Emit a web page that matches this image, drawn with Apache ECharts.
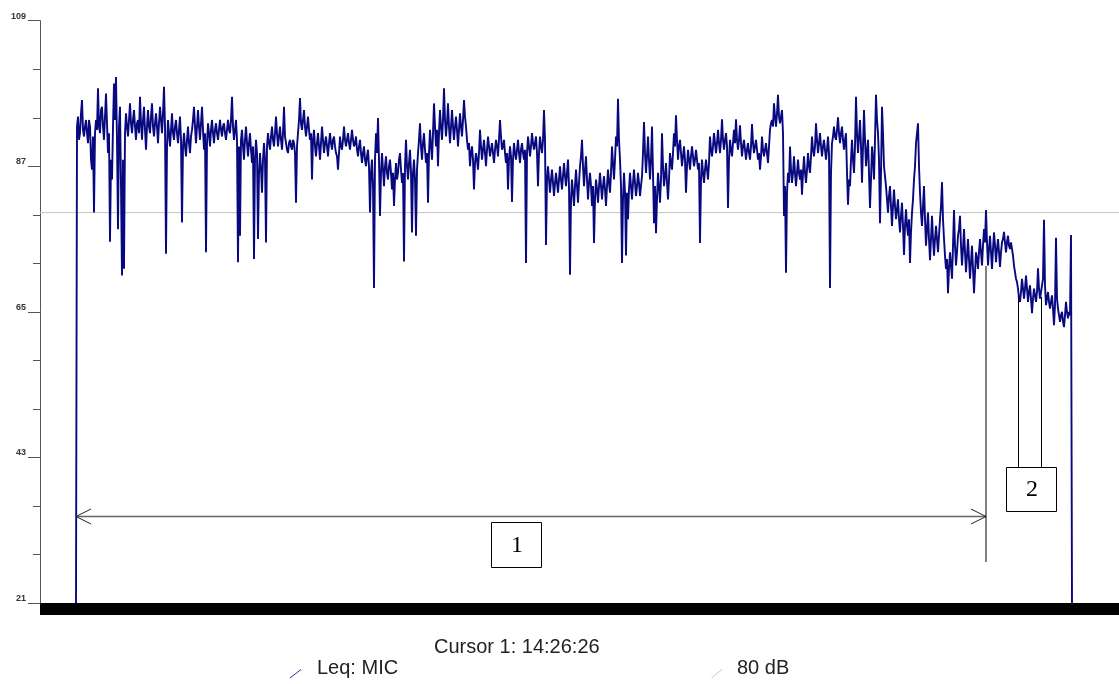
<!DOCTYPE html>
<html>
<head>
<meta charset="utf-8">
<script src="https://cdn.jsdelivr.net/npm/echarts@6/dist/echarts.min.js"></script>
<style>
  html, body { margin: 0; padding: 0; background: #fff; }
  #chart { width: 1119px; height: 684px; }
</style>
</head>
<body>
<div id="chart"></div>
<script>
// Leq (dB) of the MIC channel, one reading per sample
const leqMic = [
  21,
  93, 94.5, 91, 92, 95, 97, 92.5, 91.5, 93, 94,
  92, 90.5, 94, 93, 88, 86.5, 91.5, 80, 92, 94,
  92.5, 98.8, 93, 92, 95.5, 96, 93, 91, 94.5, 98,
  93.5, 89, 92, 75.6, 88, 85, 93, 99.5, 94, 100.5,
  91, 77.5, 93, 96, 84, 70.5, 88, 71.5, 92, 95,
  93, 91.5, 94, 96.5, 93.5, 92, 94, 95.5, 93, 91,
  93.5, 94, 92, 97.5, 93.5, 91, 94, 96, 92.5, 89.5,
  93, 95.5, 93, 92, 94.5, 96.5, 93, 91.5, 93.5, 95,
  93, 90.5, 93.5, 96, 94, 92, 95, 99, 93, 73.8,
  90, 94, 92, 90, 92.5, 95, 92, 91, 93, 94,
  92, 90.5, 92.5, 94.5, 91, 78.5, 90, 92, 90, 88.5,
  91, 93, 90.5, 89, 91.5, 92.5, 94, 96, 93, 90.5,
  93, 95.5, 93, 91, 93.5, 96, 92.5, 89.5, 92, 74,
  90.5, 93.5, 92, 90, 92.5, 94, 92, 90.5, 92.5, 93.5,
  92, 91, 92.5, 94, 92.5, 91.5, 93, 93.5, 92, 91,
  92.5, 94, 92.5, 92, 94, 97.5, 93, 91, 92.5, 94,
  91, 72.5, 90, 76.5, 91, 92.5, 90, 88, 91, 93,
  90.5, 88.5, 90.5, 92, 89.5, 87.5, 90, 73, 88, 91,
  89, 76, 86, 89, 86.5, 83, 88, 90.5, 88, 75.5,
  90, 92, 90.5, 89.5, 91.5, 93, 91, 90, 92, 94.5,
  92, 90, 91.5, 93, 91, 89.5, 92, 96, 91.5, 90.5,
  89.5, 89, 90.5, 91, 90, 89.5, 91, 90.5, 89, 81.5,
  90, 92, 94, 97.3, 93.5, 92.5, 94, 95.5, 93, 91.5,
  93, 94.5, 92.5, 91, 92, 85, 91, 92.5, 90, 88.5,
  90.5, 92, 90, 88, 90.5, 93, 91, 89, 90.5, 91.5,
  90, 88.5, 90.5, 92, 90.5, 89.5, 91, 91.5, 90, 89,
  88.5, 86.5, 89, 91.5, 90, 89.5, 91, 93, 91, 90,
  91, 92, 90.5, 89.5, 91, 92.5, 91, 90, 90.5, 91.5,
  89.5, 88.5, 90, 91, 89, 87.5, 89, 90, 88, 87,
  88.5, 89.5, 87, 80, 86, 88, 84, 68.6, 88, 92,
  89, 94.3, 88, 79.5, 86, 89, 86.5, 84, 87, 88.5,
  86, 85, 87, 88, 86, 83.5, 86, 81, 85, 87.5,
  85, 86, 88, 89, 86.5, 84.5, 86, 72.6, 87, 91,
  87, 85, 87.5, 89.5, 86, 77, 86, 88, 85, 76.5,
  86.5, 89, 91, 93.5, 90, 88, 90.5, 92, 89.5, 87.5,
  89, 81.5, 89, 92.5, 90, 88, 92, 96.5, 93, 90,
  92.5, 87, 92, 95.5, 93, 91, 94, 98.8, 94, 91.5,
  93.5, 96.5, 93, 90.5, 93, 95.5, 93, 91, 93, 94.5,
  92.5, 90, 92.5, 95, 93, 91.5, 94, 97, 94.5, 93,
  91, 89.5, 90.5, 87, 89, 90, 88, 83.5, 87.5, 89,
  88, 86.5, 89, 92.5, 90, 88, 89.5, 91, 89, 87,
  89.5, 91.5, 90, 88.5, 89.5, 90.5, 89, 87.5, 89.5, 91,
  90, 88.5, 91, 94, 91.5, 89.5, 90, 91, 89, 87.5,
  89, 83.5, 88, 90, 88.5, 81.6, 88, 90.5, 89, 88,
  89.5, 91, 89, 87.5, 89.5, 90.5, 89, 88, 89.5, 72.4,
  89, 91.5, 90, 88.5, 90, 92, 90.5, 89.5, 90.5, 91.5,
  89, 84, 89, 91.5, 90, 89, 91, 95.5, 91, 75.1,
  85, 87, 85, 83, 85, 86.5, 84.5, 82.5, 84.5, 86,
  84.5, 83, 85, 87, 85, 83.5, 85.5, 87.5, 85.5, 84,
  86, 88, 84, 70.6, 82, 85, 83, 81, 84, 86.5,
  84, 81.5, 84.5, 87, 88.5, 91, 87, 84, 86.5, 88.5,
  85, 82, 84.5, 86, 84, 81, 84, 75.4, 82, 85,
  83.5, 81.5, 84, 86, 84, 82, 84, 85.5, 83.5, 81,
  84, 86.5, 84.5, 83, 86, 90, 87.5, 85, 88, 91.5,
  90, 97.2, 91, 88, 84, 72.4, 82, 86, 83, 73.5,
  83, 79, 83.5, 86, 84, 82, 84.5, 86.5, 84.5, 82.5,
  84, 86, 84.5, 82.5, 84, 85.5, 89, 93.7, 89, 86,
  88.5, 91.5, 88, 85, 88, 93, 86, 78.4, 84, 76.9,
  82, 86, 84, 81.5, 85, 92, 87, 84, 85.5, 87.5,
  84.5, 82, 85, 89, 87.5, 86.5, 89, 92, 90, 94.7,
  91, 88, 90, 91, 89, 87, 88.5, 90, 88, 83,
  87, 89.5, 88, 86.5, 88.5, 90, 88.5, 87, 88, 89.5,
  88, 86.5, 87.5, 75.4, 85, 88, 86, 84.5, 86.5, 88,
  86.5, 85, 87.5, 91.5, 89.5, 88.5, 90, 92, 90.5, 89,
  90.5, 92.5, 90.5, 89, 91, 94.1, 91, 89.5, 91, 92,
  90, 80.7, 88, 91, 89.5, 88.5, 90.5, 92.5, 90.5, 94.1,
  91, 89.5, 91, 93.2, 90.5, 88.5, 90, 91, 89.5, 88,
  89.5, 90.5, 89, 88, 90, 93.4, 90.5, 89, 90, 91,
  89.5, 88, 89, 86.5, 88.5, 91.5, 89.5, 88.5, 89.5, 90.5,
  89, 87.5, 90, 92.5, 93.5, 94, 93, 96.5, 94.5, 93,
  95, 97.8, 94.5, 93.5, 94.5, 95.5, 92, 79.5, 84, 70.9,
  83, 86, 84.5, 90, 86.5, 84.5, 86, 88.5, 86, 84,
  86, 88, 86, 85, 86.5, 82.7, 86, 88.5, 86, 84.5,
  86.5, 89, 87, 86, 88.5, 91.5, 89.5, 88.5, 90, 93.5,
  91, 89, 90.5, 92, 90, 88.5, 90, 91, 89.5, 88,
  89.5, 91.5, 89, 68.6, 86, 90.5, 91.5, 93, 91.5, 91,
  92.5, 94.4, 92, 90.5, 92, 93, 91, 89.5, 91, 92,
  86, 81.2, 85, 84, 88, 91, 88, 86, 90, 97.5,
  92, 89, 91.5, 94, 90, 84.5, 90, 95.5, 91, 87,
  89, 91, 86, 80.7, 85, 90, 88, 85, 91, 97.8,
  94, 92, 88, 78.4, 86, 96, 92, 87, 85.5, 84,
  82, 80, 82.5, 84, 81, 78, 81, 83.5, 81, 79,
  80.5, 82, 79, 77, 79.5, 81.5, 78, 73.6, 78, 80.5,
  78, 76.5, 79, 72.4, 77, 80, 82, 85, 87, 90.5,
  92, 93.5, 87, 83, 80, 78, 81, 84, 79, 75,
  77.5, 80, 76, 72.8, 76, 79.5, 76, 73.5, 76, 78,
  76, 74, 76.5, 79, 81, 84.6, 79, 76, 73.5, 71.5,
  73, 67.8, 71.5, 74, 72, 70, 75, 80.4, 75, 72,
  74, 76.5, 77.5, 79.5, 75, 72, 74.5, 77.5, 74, 71,
  73.5, 76, 73, 70, 72.5, 75, 71.5, 67.8, 71, 74,
  73, 71.5, 74, 76, 74, 72, 75, 77.5, 75.5, 80.4,
  75.5, 72, 74.5, 76.5, 74, 71.5, 74.5, 77, 75, 72.5,
  74.5, 76, 74, 71.8, 74, 75.5, 76, 77.1, 75.5, 74,
  75.5, 76.5, 75, 74.5, 75.5, 75.5, 73.5, 72, 71, 70,
  69.5, 68.5, 67, 66.5, 68, 70, 68.5, 67, 68.5, 70.5,
  68.5, 66.5, 68, 69, 67, 64.8, 67, 68.5, 67.5, 66.5,
  68, 71.6, 68.5, 67, 68, 69, 70, 78.9, 69, 66,
  67, 68, 66.5, 65.5, 66.5, 67.5, 65.5, 63, 66, 76.2,
  67, 65.5, 64.5, 63.5, 64.5, 65, 63.5, 62.7, 64.5, 66.5,
  65, 64, 65, 64.5, 76.6, 21
];

// reference level line
const thresholdDb = 80;

// y axis: labelled levels and the finer tick marks between them
const yMin = 21;
const yMax = 109;
const majorTicks = [21, 43, 65, 87, 109];
const minorTicks = [];
for (let k = 0; k <= 12; k++) minorTicks.push(yMin + k * (yMax - yMin) / 12);

const cursorText = 'Cursor 1: 14:26:26';
const seriesName = 'Leq: MIC';
const thresholdName = '80 dB';

// sample index range covered by the (hidden) time axis
const xMin = -36;
const xMax = 1043;

const chart = echarts.init(document.getElementById('chart'), null, { renderer: 'canvas' });

const axisColor = '#555';
const uiFont = '"Liberation Sans", Arial, sans-serif';
const boxFont = '24px "Liberation Serif", "DejaVu Serif", serif';

const option = {
  animation: false,
  backgroundColor: '#ffffff',
  grid: { left: 40, right: 0, top: 20.7, bottom: 81, containLabel: false, outerBoundsMode: 'none' },
  xAxis: {
    type: 'value',
    min: xMin,
    max: xMax,
    offset: 6,
    axisLine: { show: true, onZero: false, lineStyle: { color: '#000', width: 12, cap: 'butt' } },
    axisTick: { show: false },
    axisLabel: { show: false },
    splitLine: { show: false }
  },
  yAxis: [
    {
      type: 'value',
      position: 'left',
      min: yMin,
      max: yMax,
      axisLine: { show: true, onZero: false, lineStyle: { color: axisColor, width: 1 } },
      axisTick: { show: true, length: 7, customValues: minorTicks, lineStyle: { color: axisColor } },
      axisLabel: { show: false },
      splitLine: { show: false }
    },
    {
      type: 'value',
      position: 'left',
      offset: 0,
      min: yMin,
      max: yMax,
      axisLine: { show: false, onZero: false },
      axisTick: { show: true, length: 12, customValues: majorTicks, lineStyle: { color: axisColor } },
      axisLabel: {
        show: true,
        customValues: majorTicks,
        margin: 14,
        fontSize: 9,
        fontWeight: 'bold',
        fontFamily: uiFont,
        color: '#333',
        verticalAlign: 'bottom'
      },
      splitLine: { show: false }
    }
  ],
  series: [
    {
      name: thresholdName,
      type: 'line',
      yAxisIndex: 0,
      data: [[xMin, thresholdDb], [xMax, thresholdDb]],
      showSymbol: false,
      lineStyle: { color: '#c4c4c4', width: 1 },
      z: 1
    },
    {
      name: seriesName,
      type: 'line',
      yAxisIndex: 0,
      data: leqMic.map((v, i) => [i, v]),
      showSymbol: false,
      sampling: null,
      lineStyle: { color: '#08087f', width: 1.9 },
      z: 3
    }
  ],
  graphic: {
    elements: [
      // span arrow for section 1
      { type: 'line', shape: { x1: 76, y1: 516.5, x2: 986, y2: 516.5 }, style: { stroke: '#666', lineWidth: 1.6 }, z: 10 },
      { type: 'polyline', shape: { points: [[91, 509], [76, 516.5], [91, 524]] }, style: { stroke: '#222', lineWidth: 1, fill: null }, z: 10 },
      { type: 'polyline', shape: { points: [[971, 509], [986, 516.5], [971, 524]] }, style: { stroke: '#222', lineWidth: 1, fill: null }, z: 10 },
      // cursor line
      { type: 'line', shape: { x1: 986, y1: 266, x2: 986, y2: 562 }, style: { stroke: '#000', lineWidth: 1 }, z: 10 },
      // section 2 markers
      { type: 'line', shape: { x1: 1018.5, y1: 297, x2: 1018.5, y2: 468 }, style: { stroke: '#000', lineWidth: 1 }, z: 10 },
      { type: 'line', shape: { x1: 1041.5, y1: 297, x2: 1041.5, y2: 468 }, style: { stroke: '#000', lineWidth: 1 }, z: 10 },
      // labelled boxes
      { type: 'rect', shape: { x: 491.5, y: 522.5, width: 50, height: 45 }, style: { stroke: '#000', lineWidth: 1, fill: '#fff' }, z: 10 },
      { type: 'text', x: 517, y: 546, style: { text: '1', font: boxFont, fill: '#000', textAlign: 'center', textVerticalAlign: 'middle' }, z: 11 },
      { type: 'rect', shape: { x: 1006.5, y: 467.5, width: 50, height: 44 }, style: { stroke: '#000', lineWidth: 1, fill: '#fff' }, z: 10 },
      { type: 'text', x: 1032, y: 490, style: { text: '2', font: boxFont, fill: '#000', textAlign: 'center', textVerticalAlign: 'middle' }, z: 11 },
      // footer: cursor readout and legend
      { type: 'text', x: 434, y: 647.5, style: { text: cursorText, font: '20px ' + uiFont, fill: '#222', textAlign: 'left', textVerticalAlign: 'middle' }, z: 10 },
      { type: 'line', shape: { x1: 290, y1: 678, x2: 301, y2: 669.5 }, style: { stroke: '#2a2aa8', lineWidth: 1 }, z: 10 },
      { type: 'text', x: 317, y: 668.5, style: { text: seriesName, font: '20px ' + uiFont, fill: '#222', textAlign: 'left', textVerticalAlign: 'middle' }, z: 10 },
      { type: 'line', shape: { x1: 711.5, y1: 678, x2: 722, y2: 669.5 }, style: { stroke: '#c8c8c8', lineWidth: 1 }, z: 10 },
      { type: 'text', x: 737, y: 668.5, style: { text: thresholdName, font: '20px ' + uiFont, fill: '#222', textAlign: 'left', textVerticalAlign: 'middle' }, z: 10 }
    ]
  }
};

chart.setOption(option);
</script>
</body>
</html>
